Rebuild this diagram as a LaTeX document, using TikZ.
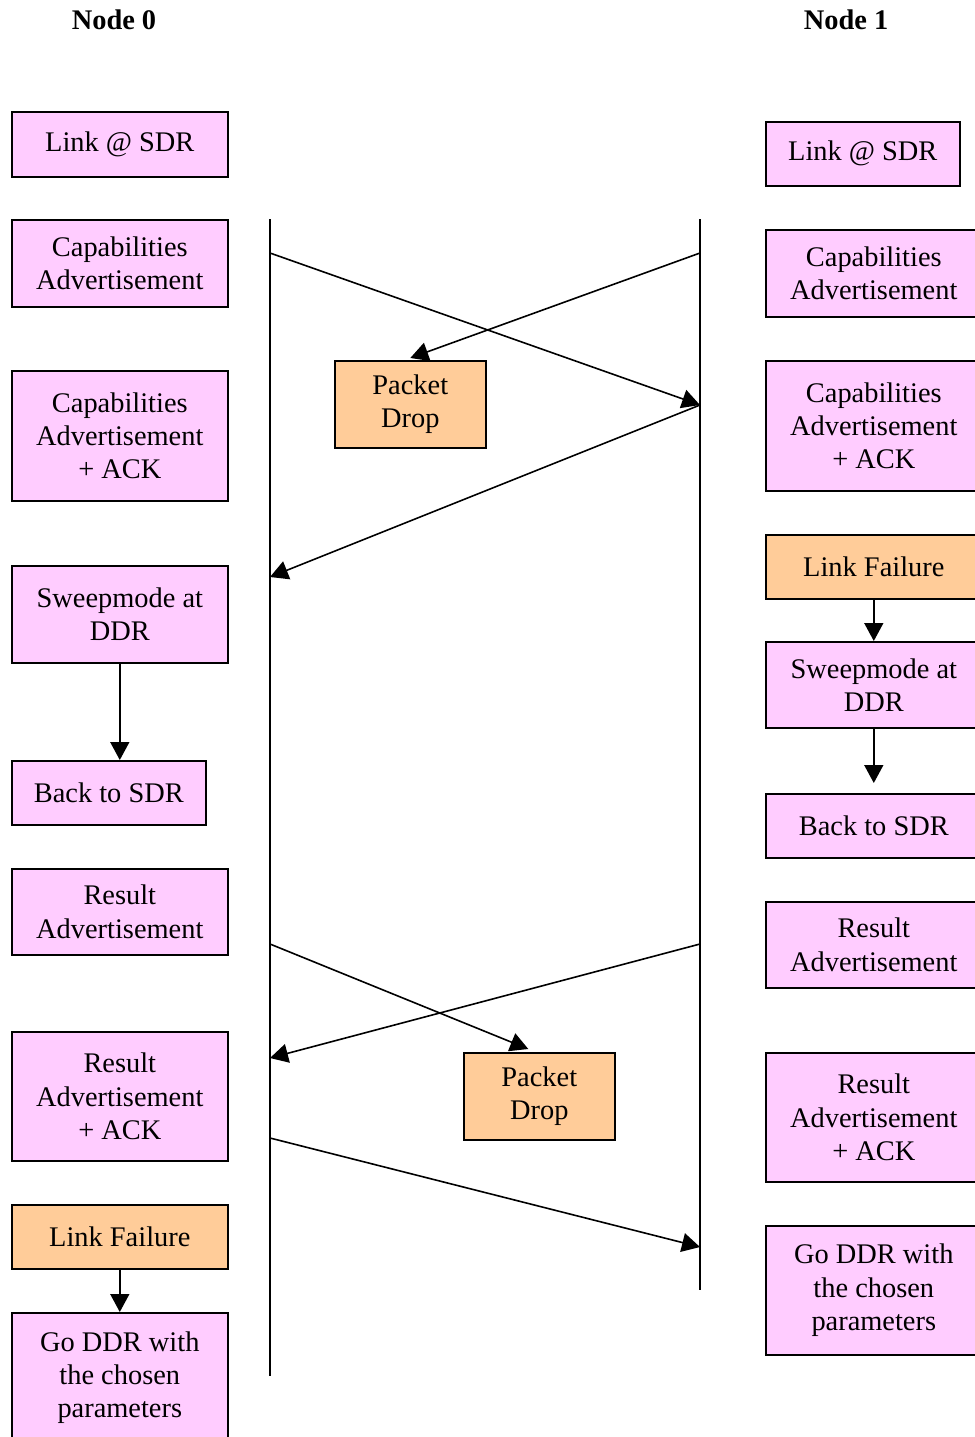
\documentclass[tikz,border=0pt]{standalone}
\usepackage{fontspec}
\setmainfont{Liberation Serif}
\usepackage{xcolor}
\usepackage{tikz}
\usetikzlibrary{arrows.meta,positioning}
\definecolor{boxpink}{HTML}{FFCCFF}
\definecolor{boxorange}{HTML}{FFCC99}

\begin{document}
\begin{tikzpicture}[x=0.5pt,y=-0.5pt,
  font=\fontsize{14.2}{16.6}\selectfont, line width=0.8pt,
  block/.style={draw,fill=boxpink,align=center,inner sep=0pt,anchor=north west,minimum width=108pt},
  drop/.style={block,fill=boxorange},
  head/.style={font=\fontsize{14.2}{16.6}\selectfont\bfseries},
  >={Triangle[length=9pt,width=9.5pt]}]
\useasboundingbox (0,0) rectangle (975,1437);
\clip (0,0) rectangle (975,1437);
\node[head] (n0) at (114,20) {Node 0};
\node[head] (n1) at (846,20) {Node 1};
% node 0 side
\node[block,minimum height=32.5pt] (sdr0) at (11,111) {Link @ SDR};
\node[block,minimum height=43.5pt] (cap0) at (11,219) {Capabilities\\Advertisement};
\node[block,minimum height=65pt] (ack0) at (11,370) {Capabilities\\Advertisement\\+ ACK};
\node[block,minimum height=48.5pt] (sweep0) at (11,565) {Sweepmode at\\DDR};
\node[block,minimum height=32pt,minimum width=97pt] (back0) at (11,760) {Back to SDR};
\node[block,minimum height=43pt] (res0) at (11,868) {Result\\Advertisement};
\node[block,minimum height=64.5pt] (rack0) at (11,1031) {Result\\Advertisement\\+ ACK};
\node[drop,minimum height=32pt] (fail0) at (11,1204) {Link Failure};
\node[block,minimum height=65pt] (ddr0) at (11,1312) {Go DDR with\\the chosen\\parameters};
% node 1 side
\node[block,minimum height=32pt,minimum width=97pt] (sdr1) at (765,121) {Link @ SDR};
\node[block,minimum height=43.5pt] (cap1) at (765,229) {Capabilities\\Advertisement};
\node[block,minimum height=65pt] (ack1) at (765,360) {Capabilities\\Advertisement\\+ ACK};
\node[drop,minimum height=32pt] (fail1) at (765,534) {Link Failure};
\node[block,minimum height=43pt] (sweep1) at (765,641) {Sweepmode at\\DDR};
\node[block,minimum height=32pt] (back1) at (765,793) {Back to SDR};
\node[block,minimum height=43pt] (res1) at (765,901) {Result\\Advertisement};
\node[block,minimum height=64.5pt] (rack1) at (765,1052) {Result\\Advertisement\\+ ACK};
\node[block,minimum height=64.5pt] (ddr1) at (765,1225) {Go DDR with\\the chosen\\parameters};
% dropped packets
\node[drop,minimum width=75.5pt,minimum height=43.5pt] (drop1) at (334,360) {Packet\\Drop};
\node[drop,minimum width=75.5pt,minimum height=43.5pt] (drop2) at (463,1052) {Packet\\Drop};
% lifelines
\coordinate (top0) at (270,219);
\coordinate (bot0) at (270,1376);
\coordinate (top1) at (700,219);
\coordinate (bot1) at (700,1290);
\draw (top0) -- (bot0);
\draw (top1) -- (bot1);
% messages
\coordinate (m1s) at (270,253);
\coordinate (m1e) at (700,405);
\coordinate (m2s) at (700,253);
\coordinate (m3e) at (270,577);
\coordinate (m4s) at (270,944);
\coordinate (m5s) at (700,944);
\coordinate (m5e) at (270,1058);
\coordinate (m6s) at (270,1138);
\coordinate (m6e) at (700,1247);
\draw[->] (m1s) -- (m1e);
\draw[->] (m2s) -- ([yshift=1pt]drop1.north);
\draw[->] (m1e) -- (m3e);
\draw[->] (m4s) -- ([xshift=-5.5pt,yshift=1.5pt]drop2.north);
\draw[->] (m5s) -- (m5e);
\draw[->] (m6s) -- (m6e);
% local steps
\draw[->] (sweep0.south) -- (sweep0.south |- back0.north);
\draw[->] (fail0) -- (ddr0);
\draw[->] (fail1) -- (sweep1);
\draw[->,shorten >=5pt] (sweep1) -- (back1);
\end{tikzpicture}
\end{document}
